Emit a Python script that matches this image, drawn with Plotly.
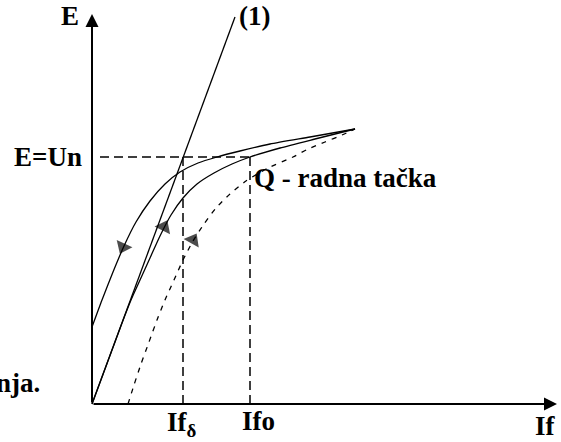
import plotly.graph_objects as go

# Excitation current If and EMF E, arbitrary units
line1_if = [0, 143]
line1_e = [0, 387]

# descending branch, starting from the residual EMF
branch_a_if = [0, 10, 21, 32, 44, 58, 73, 88, 106, 125, 148, 178, 218, 263]
branch_a_e = [77, 104, 132, 158, 182, 203, 220, 232, 241, 247, 253, 260, 267, 275]

# rising branch through the working point Q
branch_b_if = [0, 30, 39, 48, 58, 68, 79, 91, 105, 122, 140, 158, 188, 223, 263]
branch_b_e = [0, 81, 104, 124, 146, 168, 189, 206, 220, 231, 240, 247, 256, 265, 275]

# dashed curve
branch_c_if = [36, 42, 49, 57, 65, 73, 82, 91, 101, 112, 124, 138, 154, 176, 201, 216, 233, 250, 263]
branch_c_e = [0, 19, 40, 62, 84, 104, 124, 144, 163, 180, 196, 210, 223, 236, 247, 255, 262, 269, 275]

# direction marks: (tail, head) pairs along each branch
mark_a_if, mark_a_e = [37, 31], [170, 157]
mark_b_if, mark_b_e = [67, 72], [167, 177]
mark_c_if, mark_c_e = [96, 101], [155, 164]

e_un = 247
if_delta = 91
if_o = 158

FONT = dict(family="Liberation Serif", size=27, color="black")

fig = go.Figure()

fig.add_trace(go.Scatter(x=line1_if, y=line1_e, mode="lines",
                         line=dict(color="black", width=1.3)))
fig.add_trace(go.Scatter(x=branch_a_if, y=branch_a_e, mode="lines",
                         line=dict(color="black", width=1.3, shape="spline", smoothing=0.6)))
fig.add_trace(go.Scatter(x=branch_b_if, y=branch_b_e, mode="lines",
                         line=dict(color="black", width=1.3, shape="spline", smoothing=0.6)))
fig.add_trace(go.Scatter(x=branch_c_if, y=branch_c_e, mode="lines",
                         line=dict(color="black", width=1.3, dash="5px,6px",
                                   shape="spline", smoothing=0.6)))

# guide lines for E=Un, If_delta and If_o
fig.add_trace(go.Scatter(x=[8, if_o], y=[e_un, e_un], mode="lines",
                         line=dict(color="black", width=1.5, dash="9px,5px")))
fig.add_trace(go.Scatter(x=[if_delta, if_delta], y=[e_un, 0], mode="lines",
                         line=dict(color="black", width=1.5, dash="9px,5px")))
fig.add_trace(go.Scatter(x=[if_o, if_o], y=[e_un, 0], mode="lines",
                         line=dict(color="black", width=1.5, dash="9px,5px")))

# arrowheads oriented along each branch
for mx, my in [(mark_a_if, mark_a_e), (mark_b_if, mark_b_e), (mark_c_if, mark_c_e)]:
    fig.add_trace(go.Scatter(x=mx, y=my, mode="markers",
                             marker=dict(symbol="triangle-up", size=[0, 15],
                                         color="black", angleref="previous",
                                         line=dict(width=0))))

annotations = []

def arrow(x, y, ax, ay, width, size):
    annotations.append(dict(x=x, y=y, ax=ax, ay=ay, xref="x", yref="y",
                            axref="x", ayref="y", text="", showarrow=True,
                            arrowhead=2, arrowsize=size, arrowwidth=width,
                            arrowcolor="black", standoff=0, startstandoff=0))

# coordinate axes
arrow(0, 390, 0, 0, 2, 1.3)
arrow(465, 0, 0, 0, 2, 1.3)

def label(text, x, y, xanchor="center", yanchor="middle"):
    annotations.append(dict(x=x, y=y, xref="x", yref="y", text="<b>" + text + "</b>",
                            showarrow=False, xanchor=xanchor, yanchor=yanchor,
                            font=FONT))

label("E", -22, 388)
label("(1)", 145, 388, xanchor="left")
label("E=Un", -8, e_un, xanchor="right")
label("Q - radna tačka", 160, 226, xanchor="left")
label("nja.", -50, 21, xanchor="right")
label("If<sub>δ</sub>", 73, -20, xanchor="left")
label("Ifo", 148, -17, xanchor="left")
label("If", 453, -22)

fig.update_layout(
    width=561, height=442, autosize=False,
    margin=dict(l=0, r=0, t=0, b=0),
    paper_bgcolor="white", plot_bgcolor="white",
    showlegend=False,
    xaxis=dict(range=[-92, 469], visible=False, fixedrange=True),
    yaxis=dict(range=[-38, 404], visible=False, fixedrange=True),
    annotations=annotations,
)

fig.write_html("out.html")
